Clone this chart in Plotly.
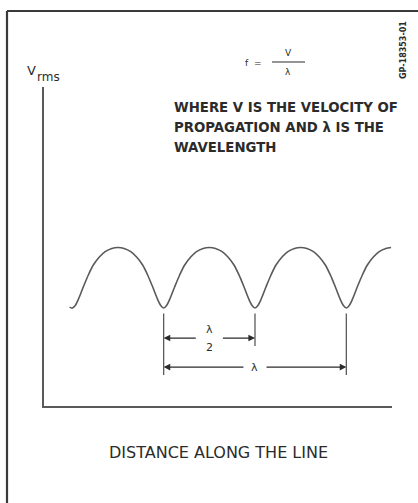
import plotly.graph_objects as go

# Standing-wave RMS voltage along a transmission line (distance in wavelengths)
distance = [0.140, 0.155,
            0.171, 0.188, 0.215, 0.242, 0.270, 0.303, 0.335, 0.371, 0.405,
            0.439, 0.475, 0.507, 0.540, 0.568, 0.595, 0.622, 0.639, 0.655,
            0.671, 0.688, 0.715, 0.742, 0.770, 0.803, 0.835, 0.871, 0.905,
            0.939, 0.975, 1.007, 1.040, 1.068, 1.095, 1.122, 1.139, 1.155,
            1.171, 1.188, 1.215, 1.242, 1.270, 1.303, 1.335, 1.371, 1.405,
            1.439, 1.475, 1.507, 1.540, 1.568, 1.595, 1.622, 1.639, 1.655,
            1.671, 1.688, 1.715, 1.742, 1.770, 1.803, 1.835, 1.871, 1.900]
v_rms = [3.10, 3.07,
         3.15, 3.34, 3.73, 4.10, 4.42, 4.67, 4.84, 4.94, 4.97,
         4.94, 4.84, 4.67, 4.42, 4.10, 3.73, 3.34, 3.15, 3.07,
         3.15, 3.34, 3.73, 4.10, 4.42, 4.67, 4.84, 4.94, 4.97,
         4.94, 4.84, 4.67, 4.42, 4.10, 3.73, 3.34, 3.15, 3.07,
         3.15, 3.34, 3.73, 4.10, 4.42, 4.67, 4.84, 4.94, 4.97,
         4.94, 4.84, 4.67, 4.42, 4.10, 3.73, 3.34, 3.15, 3.07,
         3.15, 3.34, 3.73, 4.10, 4.42, 4.67, 4.84, 4.94, 4.97]

# Voltage minima used for the dimension lines
minima = [0.655, 1.155, 1.655]

title_lines = ["WHERE V IS THE VELOCITY OF",
               "PROPAGATION AND λ IS THE",
               "WAVELENGTH"]
x_title = "DISTANCE ALONG THE LINE"
drawing_id = "GP-18353-01"

W, H = 418, 503
ML, MR, MT, MB = 44, 26, 87, 97
PW, PH = W - ML - MR, H - MT - MB

INK = "#2b2b2b"
LINE = "#5a5a5a"
FONT = "DejaVu Sans"


def px(x, y):
    """Pixel position -> paper coordinates."""
    return (x - ML) / PW, (H - MB - y) / PH


def paper_text(x, y, text, size, xanchor="center", weight="normal", angle=0):
    px_, py_ = px(x, y)
    return dict(xref="paper", yref="paper", x=px_, y=py_, text=text, showarrow=False,
                xanchor=xanchor, yanchor="middle", textangle=angle,
                font=dict(family=FONT, size=size, color=INK, weight=weight))


fig = go.Figure()
fig.add_trace(go.Scatter(x=distance, y=v_rms, mode="lines",
                         line=dict(color=LINE, width=1.6, shape="spline", smoothing=0.8),
                         hoverinfo="skip", showlegend=False))

shapes = []
annotations = []

# outer drawing frame (left and top edges)
x0, y0 = px(7, 11)
x1, _ = px(418, 11)
_, yb = px(7, 503)
shapes.append(dict(type="line", xref="paper", yref="paper", x0=x0, y0=y0, x1=x0, y1=yb,
                   line=dict(color="#3a3a3a", width=2.2)))
shapes.append(dict(type="line", xref="paper", yref="paper", x0=x0, y0=y0, x1=x1, y1=y0,
                   line=dict(color="#3a3a3a", width=2)))

# extension lines down from the minima
ext_low = 0.97
ext_mid = 1.88
ext_top = 2.90
for i, m in enumerate(minima):
    shapes.append(dict(type="line", xref="x", yref="y", x0=m, x1=m, y0=ext_top,
                       y1=ext_mid if i == 1 else ext_low,
                       line=dict(color=LINE, width=1.3)))

# dimension arrows
y_half, y_full = 2.13, 1.22
mid_half = (minima[0] + minima[1]) / 2
mid_full = (minima[0] + minima[2]) / 2
gap_half, gap_full = 0.066, 0.055
arrow = dict(xref="x", yref="y", axref="x", ayref="y", text="", showarrow=True,
             arrowhead=2, arrowsize=1.1, arrowwidth=1.2, arrowcolor=INK)
annotations += [
    dict(arrow, x=minima[0], y=y_half, ax=mid_half - gap_half, ay=y_half),
    dict(arrow, x=minima[1], y=y_half, ax=mid_half + gap_half, ay=y_half),
    dict(arrow, x=minima[0], y=y_full, ax=mid_full - gap_full, ay=y_full),
    dict(arrow, x=minima[2], y=y_full, ax=mid_full + gap_full, ay=y_full),
]
label = dict(xref="x", yref="y", showarrow=False, xanchor="center", yanchor="middle",
             font=dict(family=FONT, size=11, color=INK))
annotations.append(dict(label, x=mid_half, y=y_half + 0.26, text="λ"))
annotations.append(dict(label, x=mid_half, y=y_half - 0.31, text="2"))
annotations.append(dict(label, x=mid_full, y=y_full, text="λ"))

# formula f = V / λ
annotations.append(paper_text(253, 63, "f  =", 9))
annotations.append(paper_text(288, 53, "V", 9))
annotations.append(paper_text(288, 72, "λ", 9))
bx0, by = px(272, 62)
bx1, _ = px(305, 62)
shapes.append(dict(type="line", xref="paper", yref="paper", x0=bx0, x1=bx1, y0=by, y1=by,
                   line=dict(color=INK, width=1)))

# explanatory note
for i, t in enumerate(title_lines):
    annotations.append(paper_text(172, 107 + 20 * i, t, 13.3, xanchor="left", weight="bold"))

# axis labels
annotations.append(paper_text(25, 71, "V", 13, xanchor="left"))
annotations.append(paper_text(35, 77, "rms", 12, xanchor="left"))
annotations.append(paper_text(218, 452, x_title, 16))

# drawing number, written vertically
annotations.append(paper_text(404, 50, drawing_id, 8, weight="bold", angle=-90))

fig.update_layout(
    width=W, height=H,
    margin=dict(l=ML, r=MR, t=MT, b=MB),
    paper_bgcolor="white", plot_bgcolor="white",
    xaxis=dict(range=[0, 1.905], showline=True, linecolor=LINE, linewidth=1.6,
               showgrid=False, zeroline=False, showticklabels=False, ticks=""),
    yaxis=dict(range=[0, 10], showline=True, linecolor=LINE, linewidth=1.6,
               showgrid=False, zeroline=False, showticklabels=False, ticks=""),
    shapes=shapes, annotations=annotations,
)

fig.write_html("out.html")
